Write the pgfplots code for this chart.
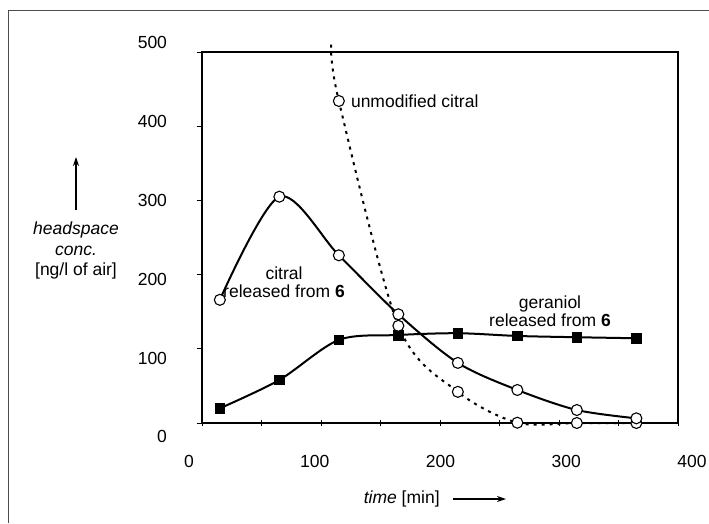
\documentclass[border=0pt]{standalone}
\usepackage{pgfplots}
\pgfplotsset{compat=1.18}
\usepackage{fontspec}
\setmainfont{Liberation Sans}
\usetikzlibrary{arrows.meta}

% release data (time in min, conc. in ng/l of air)
\pgfplotstableread{
t    c
15   19.8
65   58
115  112
165  118.6
215  121
265  117.3
315  115.6
365  114.2
}\geraniol
\pgfplotstableread{
t    c
15   166
65   305
115  226
165  146.5
215  81
265  44.5
315  17.5
365  6.3
}\citralsix
\pgfplotstableread{
t    c
115  434
165  131
215  42
265  0.4
315  0
365  0
}\citralfree

\begin{document}
\fontsize{17.5}{20.5}\selectfont
\begin{tikzpicture}
\useasboundingbox (0pt,0pt) rectangle (709pt,523pt);
\begin{axis}[
    at={(202pt,100pt)}, anchor=south west,
    scale only axis, width=476pt, height=371pt,
    xmin=0, xmax=400, ymin=0, ymax=500,
    clip=false,
    xtick={0,50,...,400}, ytick={0,100,...,500},
    xticklabels={}, yticklabels={},
    xtick pos=bottom, ytick pos=left,
    tick align=center, major tick length=6pt,
    ytick style={xshift=-2.5pt},
    tick style={black, line width=1pt},
    axis line style={black, line width=1.6pt},
]
% lines
\addplot[black, line width=2pt, smooth] table[x=t, y=c] {\geraniol};
\addplot[black, line width=2pt, smooth] table[x=t, y=c] {\citralsix};
\addplot[black, line width=2pt, smooth, dash pattern=on 3pt off 5pt]
    coordinates {(108.5,510) (115,434) (165,131) (215,42) (265,0.4) (315,0) (365,0)};
% marks
\addplot[only marks, mark=square*, mark size=4.7pt, black] table[x=t, y=c] {\geraniol};
\addplot[only marks, mark=*, mark size=5.5pt, mark options={fill=white, draw=black, line width=1.1pt}] table[x=t, y=c] {\citralfree};
\addplot[only marks, mark=*, mark size=5.5pt, mark options={fill=white, draw=black, line width=1.1pt}] table[x=t, y=c] {\citralsix};
\end{axis}

\begin{scope}[shift={(0pt,523pt)}]
% outer frame
\draw[black!70, line width=1.6pt] (8.3pt,-523pt) -- (8.3pt,-10.7pt) -- (709pt,-10.7pt);
% tick labels
\foreach \v/\x in {0/189, 100/314.75, 200/440.5, 300/566.25, 400/692}
  \node at (\x pt,-461pt) {\v};
\foreach \v/\y in {500/42, 400/121, 300/200, 200/279, 100/358, 0/436.7}
  \node[anchor=east] at (173pt,-\y pt) {\v};
% axis titles
\node[align=center, font=\fontsize{17.5}{20.5}\selectfont] at (76pt,-250.5pt)
  {\itshape headspace\\\itshape conc.\\{}[ng/l of air]};
\draw[line width=1.2pt, -{Stealth[length=9pt, width=6pt]}] (76pt,-210pt) -- (76pt,-157pt);
\node at (401.7pt,-499pt) {\itshape time\upshape{} [min]};
\draw[line width=1.2pt, -{Stealth[length=9pt, width=6pt]}] (453pt,-499pt) -- (506pt,-499pt);
% curve labels
\node[anchor=west] at (345pt,-101pt) {unmodified citral};
\node[align=center, font=\fontsize{17.5}{18.4}\selectfont] at (284pt,-282.5pt)
  {citral\\released from \textbf{6}};
\node[align=center, font=\fontsize{17.5}{18.4}\selectfont] at (550pt,-311pt)
  {geraniol\\released from \textbf{6}};
\end{scope}
\end{tikzpicture}
\end{document}
